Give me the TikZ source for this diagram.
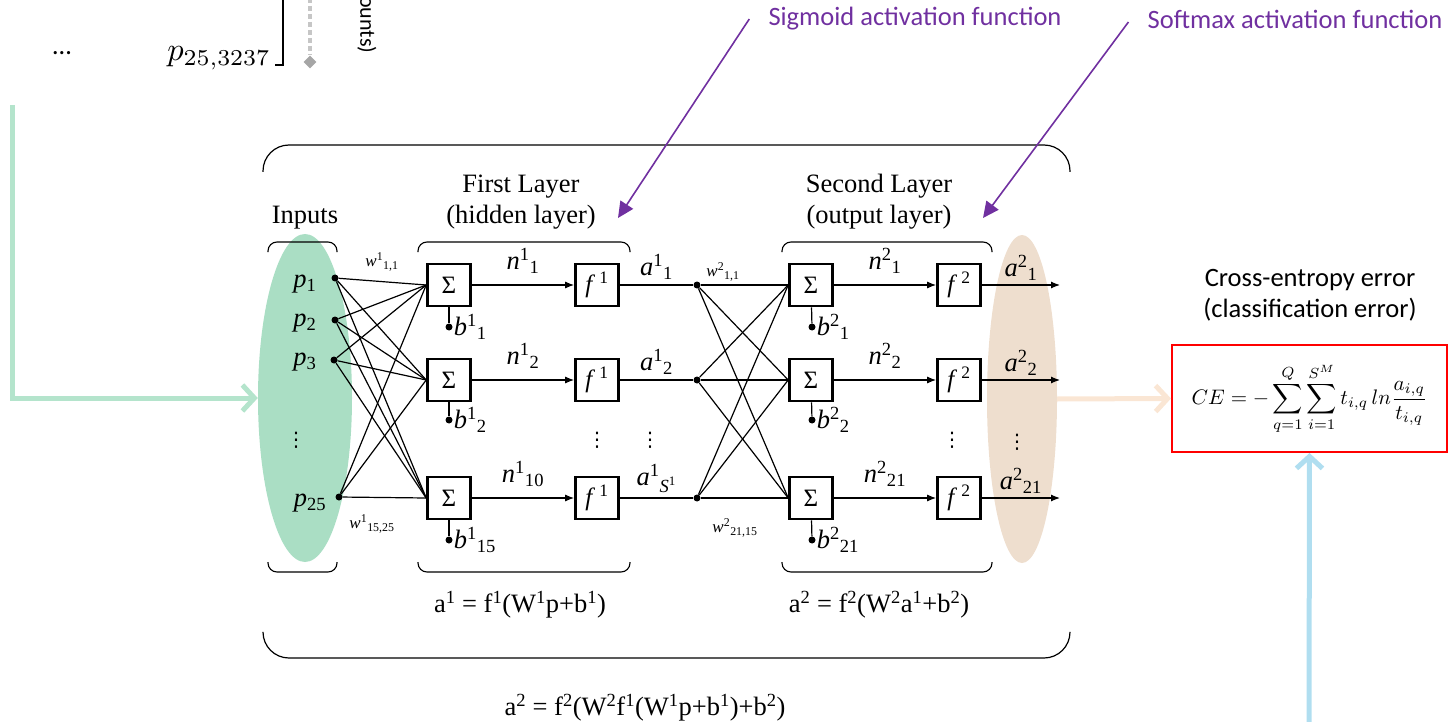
\documentclass[tikz,border=0pt]{standalone}
\usepackage{fontspec}
\setmainfont{Liberation Serif}
\newfontfamily\calfont{Carlito}
\newfontfamily\symfont{DejaVu Sans}
\usetikzlibrary{arrows.meta}
\usetikzlibrary{positioning}
\usetikzlibrary{shapes.geometric}

\definecolor{inputgreen}{RGB}{170,222,196}
\definecolor{outputbeige}{RGB}{238,222,206}
\definecolor{notepurple}{RGB}{112,48,160}
\definecolor{flowgreen}{RGB}{180,228,204}
\definecolor{flowbeige}{RGB}{250,230,212}
\definecolor{flowblue}{RGB}{176,222,240}

\newcommand{\lyr}[3]{\textit{#1}\textsuperscript{#2}\textsubscript{#3}}
\newcommand{\vdts}{{\symfont\fontsize{20}{22}\selectfont ⋮}}

\tikzset{
  sumbox/.style={draw, line width=2.6pt, minimum width=43pt, minimum height=42pt, inner sep=0pt, font=\fontsize{25}{28}\selectfont},
  neuron/.style={circle, fill, inner sep=0pt, minimum size=7pt},
  wire/.style={line width=1.2pt},
  fwd/.style={wire, -{Latex[length=9pt,width=7pt]}},
  lbl/.style={font=\fontsize{26.5}{31}\selectfont, inner sep=1pt},
  wlbl/.style={font=\fontsize{17}{20}\selectfont, inner sep=1pt},
  layerbrace/.style={line width=1.1pt, rounded corners=9pt},
  bigbrace/.style={line width=1.2pt, rounded corners=26pt},
  note/.style={font=\calfont\fontsize{26.5}{31}\selectfont, text=notepurple, inner sep=1pt},
  pointer/.style={draw=notepurple, line width=1.6pt, -{Triangle[length=16pt,width=15pt]}},
  flow/.style={line width=5pt, -{Straight Barb[length=12pt,width=26pt]}},
}

\begin{document}
\begin{tikzpicture}[x=1pt,y=-1pt]
\useasboundingbox (0,0) rectangle (1451,722);

% data part at the top left
\node[font=\calfont\fontsize{26.5}{30}\selectfont] (more) at (62,53) {\ldots};
\node (plast) at (219,58) {\scalebox{3.25}{$p_{25,3237}$}};
\draw[line width=1.8pt] (283,-2) -- (283,65) -- (275,65);
\node[diamond, fill=gray!70, minimum size=13pt, inner sep=0pt] (dmark) at (310,62) {};
\draw[gray!45, line width=4pt, dash pattern=on 5pt off 3pt] (310,-2) -- (dmark);
\node[font=\calfont\fontsize{22}{26}\selectfont, rotate=-90, anchor=east] (cnt) at (367,57) {ounts)};

% input and output sets
\node[ellipse, fill=inputgreen, minimum width=94pt, minimum height=328pt, inner sep=0pt] (inset) at (305,398) {};
\node[ellipse, fill=outputbeige, minimum width=70pt, minimum height=328pt, inner sep=0pt] (outset) at (1022,399) {};

\coordinate (greenstart) at (12,105);
\draw[flow, draw=flowgreen] (greenstart) |- (inset.west);

% braces
\draw[bigbrace] (263,172) -- (263,145) -- (1070,145) -- (1070,172);
\draw[bigbrace] (263,633) -- (263,658) -- (1070,658) -- (1070,633);
\foreach \xa/\xb in {268/337, 418/630, 782/992} {
  \draw[layerbrace] (\xa,252) -- (\xa,242) -- (\xb,242) -- (\xb,252);
  \draw[layerbrace] (\xa,562) -- (\xa,572) -- (\xb,572) -- (\xb,562);
}

\node[lbl] (intitle) at (305,218) {Inputs};
\node[lbl, align=center] (l1title) at (521,202) {First Layer\\(hidden layer)};
\node[lbl, align=center] (l2title) at (879,202) {Second Layer\\(output layer)};

% inputs
\node[lbl] (p1) at (305,284) {\textit{p}\textsubscript{1}};
\node[lbl] (p2) at (305,323) {\textit{p}\textsubscript{2}};
\node[lbl] (p3) at (305,362) {\textit{p}\textsubscript{3}};
\node[lbl] (pdots) at (296,440) {\vdts};
\node[lbl] (p25) at (310,503) {\textit{p}\textsubscript{25}};
\node[neuron] (in1) at (335,278) {};
\node[neuron] (in2) at (335,320) {};
\node[neuron] (in3) at (334,360) {};
\node[neuron] (in4) at (339,497) {};

% first layer
\foreach \j/\y/\s/\b in {1/285/1/1, 2/380/2/2, 3/498/10/15} {
  \node[sumbox] (sa\j) at (449,\y) {Σ};
  \node[sumbox] (fa\j) at (597,\y) {\textit{f}\,\textsuperscript{1}};
  \node[neuron] (ha\j) at (697,\y) {};
  \draw[fwd] (sa\j) -- node[lbl, above=10pt] {\lyr{n}{1}{\s}} (fa\j);
}
\foreach \j/\y/\b in {1/327/1, 2/420/2, 3/540/15} {
  \node[neuron] (ba\j) at (449,\y) {};
  \draw[wire] (sa\j) -- (ba\j);
  \node[lbl, anchor=west] at (ba\j.east) {\lyr{b}{1}{\b}};
}
\draw[wire] (fa1) -- node[lbl, above=4pt] {\lyr{a}{1}{1}} (ha1);
\draw[wire] (fa2) -- node[lbl, above=4pt] {\lyr{a}{1}{2}} (ha2);
\draw[wire] (fa3) -- node[lbl, above=4pt] {\textit{a}\textsuperscript{1}\textsubscript{\textit{S}\textsuperscript{1}}} (ha3);
\foreach \i in {1,...,4}
  \foreach \j in {1,2,3}
    \draw[wire] (in\i) -- (sa\j.west);

% second layer
\foreach \j/\y/\s in {1/285/1, 2/380/2, 3/498/21} {
  \node[sumbox] (sb\j) at (811,\y) {Σ};
  \node[sumbox] (fb\j) at (959,\y) {\textit{f}\,\textsuperscript{2}};
  \coordinate (out\j) at (1060,\y);
  \draw[fwd] (sb\j) -- node[lbl, above=10pt] {\lyr{n}{2}{\s}} (fb\j);
  \draw[fwd] (fb\j) -- node[lbl, above=3pt] {\lyr{a}{2}{\s}} (out\j);
}
\foreach \j/\y/\b in {1/327/1, 2/420/2, 3/540/21} {
  \node[neuron] (bb\j) at (812,\y) {};
  \draw[wire] (sb\j) -- (bb\j);
  \node[lbl, anchor=west] at (bb\j.east) {\lyr{b}{2}{\b}};
}
\foreach \i in {1,2,3}
  \foreach \j in {1,2,3}
    \draw[wire] (ha\i) -- (sb\j.west);

\node[lbl] (fadots) at (597,440) {\vdts};
\node[lbl] (hadots) at (650,440) {\vdts};
\node[lbl] (fbdots) at (952,440) {\vdts};
\node[lbl] (outdots) at (1017,442) {\vdts};

\node[wlbl] (w11) at (382,262) {\lyr{w}{1}{1,1}};
\node[wlbl] (w1last) at (372,524) {\lyr{w}{1}{15,25}};
\node[wlbl] (w21) at (723,272) {\lyr{w}{2}{1,1}};
\node[wlbl] (w2last) at (735,528) {\lyr{w}{2}{21,15}};

\node[lbl] (eq1) at (520,605) {a\textsuperscript{1} = f\textsuperscript{1}(W\textsuperscript{1}p+b\textsuperscript{1})};
\node[lbl] (eq2) at (879,605) {a\textsuperscript{2} = f\textsuperscript{2}(W\textsuperscript{2}a\textsuperscript{1}+b\textsuperscript{2})};
\node[lbl] (eqall) at (645,708) {a\textsuperscript{2} = f\textsuperscript{2}(W\textsuperscript{2}f\textsuperscript{1}(W\textsuperscript{1}p+b\textsuperscript{1})+b\textsuperscript{2})};

% activation notes
\node[note] (sig) at (915,19) {Sigmoid activation function};
\node[note] (soft) at (1295,19) {Softmax activation function};
\coordinate (sigtip) at (618,218);
\coordinate (softtip) at (983,218);
\draw[pointer] ([xshift=-18pt]sig.west) -- (sigtip);
\draw[pointer] ([xshift=-18pt,yshift=-3pt]soft.west) -- (softtip);

% error
\node[font=\calfont\fontsize{26.5}{31}\selectfont, align=center] (cetitle) at (1310,295) {Cross-entropy error\\(classification error)};
\node[draw=red, line width=2pt, minimum width=275pt, minimum height=107pt] (cebox) at (1309.5,398.5)
  {\scalebox{2.1}{$\displaystyle CE=-\sum_{q=1}^{Q}\sum_{i=1}^{S^M}t_{i,q}\,ln\frac{a_{i,q}}{t_{i,q}}$}};
\draw[flow, draw=flowbeige] (outset.east) -- (cebox.west);
\coordinate (bluestart) at (1309,726);
\draw[flow, draw=flowblue] (bluestart) -- (cebox.south);
\end{tikzpicture}
\end{document}
